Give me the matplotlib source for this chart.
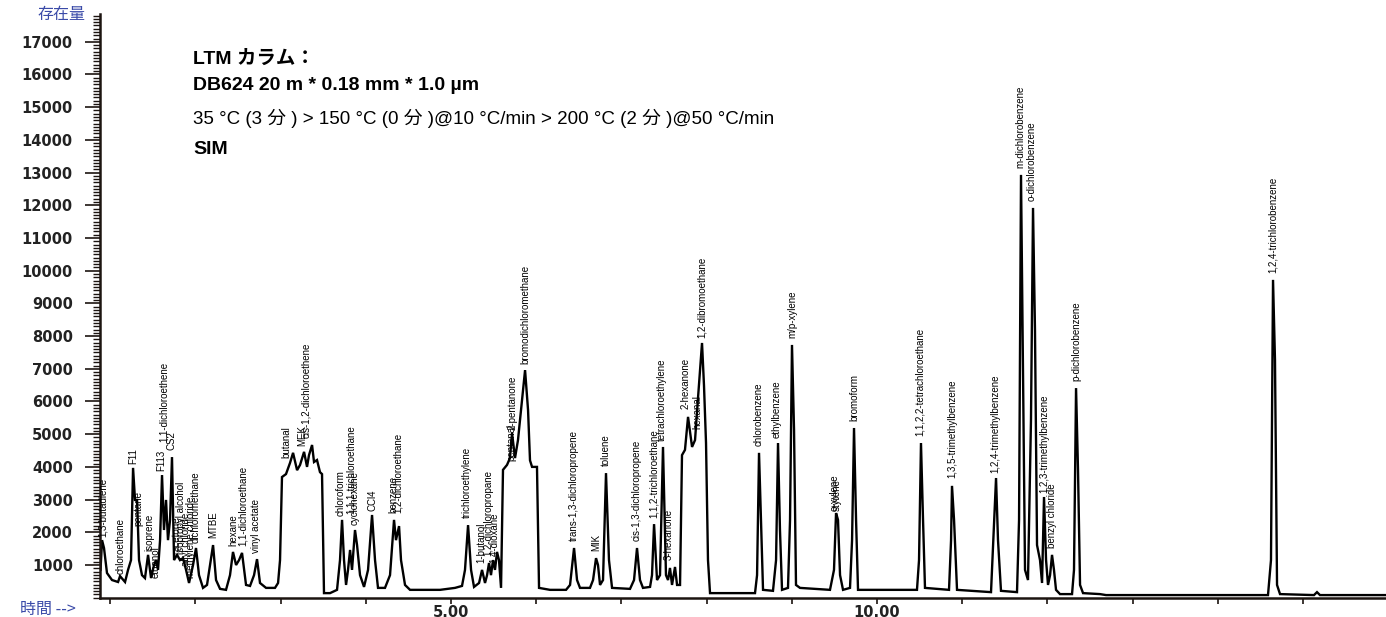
import matplotlib
matplotlib.use("Agg")
import matplotlib.pyplot as plt
from matplotlib.ticker import MultipleLocator, FixedLocator, FixedFormatter
from matplotlib import font_manager as fm

# ---------------- data ----------------
trace_time = [0.886, 0.904, 0.927, 0.962, 1.021, 1.092, 1.115, 1.174, 1.209, 1.244, 1.268, 1.291, 1.315, 1.338,
              1.373, 1.408, 1.444, 1.479, 1.514, 1.538, 1.561, 1.585, 1.608, 1.631, 1.655, 1.678, 1.702, 1.725,
              1.749, 1.784, 1.819, 1.854, 1.890, 1.925, 1.972, 2.007, 2.042, 2.089, 2.136, 2.171, 2.207, 2.242,
              2.289, 2.359, 2.406, 2.441, 2.477, 2.512, 2.547, 2.594, 2.641, 2.688, 2.723, 2.758, 2.829, 2.934,
              2.970, 2.993, 3.016, 3.063, 3.110, 3.146, 3.193, 3.228, 3.275, 3.310, 3.333, 3.369, 3.392, 3.427,
              3.462, 3.486, 3.509, 3.580, 3.662, 3.697, 3.721, 3.744, 3.768, 3.791, 3.815, 3.838, 3.873, 3.897,
              3.932, 3.979, 4.026, 4.073, 4.108, 4.143, 4.225, 4.284, 4.331, 4.354, 4.390, 4.413, 4.460, 4.519,
              4.871, 5.047, 5.129, 5.164, 5.200, 5.235, 5.270, 5.329, 5.364, 5.399, 5.423, 5.446, 5.469, 5.493,
              5.516, 5.540, 5.563, 5.587, 5.610, 5.657, 5.692, 5.716, 5.751, 5.786, 5.822, 5.869, 5.904, 5.927,
              5.951, 6.009, 6.033, 6.162, 6.350, 6.397, 6.444, 6.479, 6.514, 6.631, 6.667, 6.702, 6.725, 6.749,
              6.784, 6.819, 6.854, 6.890, 7.101, 7.148, 7.183, 7.218, 7.253, 7.336, 7.359, 7.383, 7.418, 7.453,
              7.488, 7.523, 7.547, 7.570, 7.594, 7.629, 7.653, 7.688, 7.711, 7.746, 7.782, 7.829, 7.864, 7.899,
              7.946, 7.969, 7.993, 8.016, 8.040, 8.568, 8.592, 8.615, 8.638, 8.662, 8.779, 8.815, 8.838, 8.861,
              8.885, 8.955, 8.979, 9.002, 9.026, 9.049, 9.096, 9.448, 9.495, 9.519, 9.542, 9.566, 9.601, 9.683,
              9.707, 9.730, 9.754, 9.777, 10.469, 10.493, 10.516, 10.540, 10.563, 10.845, 10.869, 10.880, 10.904,
              10.939, 11.338, 11.362, 11.397, 11.420, 11.455, 11.643, 11.667, 11.690, 11.714, 11.737, 11.772,
              11.807, 11.831, 11.854, 11.878, 11.913, 11.937, 11.960, 11.984, 12.007, 12.031, 12.054, 12.077,
              12.101, 12.148, 12.289, 12.312, 12.336, 12.359, 12.383, 12.418, 12.617, 12.688, 14.589, 14.624,
              14.648, 14.671, 14.695, 14.730, 15.129, 15.164, 15.199, 15.974]
trace_abund = [850, 1760, 1520, 755, 540, 480, 660, 480, 850, 1150, 3970, 2990, 2990, 1150,
               690, 600, 1310, 600, 1000, 1150, 850, 1760, 3750, 2070, 2990, 1760, 2380, 4300,
               1150, 1310, 1150, 1210, 850, 450, 1000, 1520, 690, 300, 390, 1000, 1610, 540,
               270, 240, 690, 1400, 1000, 1150, 1370, 390, 360, 690, 1180, 450, 300, 300,
               450, 1150, 3690, 3780, 4120, 4430, 3900, 4060, 4460, 4000, 4360, 4670, 4150, 4210,
               3840, 3780, 140, 140, 240, 1150, 2380, 1150, 390, 850, 1460, 850, 2070, 1610,
               690, 330, 850, 2530, 1150, 300, 300, 690, 2380, 1760, 2190, 1150, 390, 240,
               240, 300, 360, 850, 2220, 850, 330, 450, 850, 450, 690, 1060, 690, 1150,
               850, 1400, 1150, 300, 3910, 4060, 4270, 5040, 4270, 4820, 5740, 6960, 5740, 4200,
               4000, 4000, 300, 240, 240, 390, 1520, 540, 300, 300, 540, 1210, 1000, 390,
               540, 3810, 1150, 300, 270, 540, 1520, 540, 300, 330, 690, 2250, 540, 690,
               4610, 690, 540, 910, 390, 940, 390, 390, 4360, 4520, 5530, 4610, 4820, 6110,
               7790, 6500, 4730, 1150, 140, 140, 690, 4430, 2380, 240, 210, 1150, 4730, 2070,
               240, 300, 2380, 7730, 5130, 390, 300, 240, 850, 2590, 2380, 690, 240, 300,
               1760, 5190, 2380, 240, 240, 1150, 4730, 2380, 300, 240, 1760, 3420, 2380,
               240, 170, 1610, 3660, 1760, 210, 170, 2380, 12930, 6660, 850, 540,
               5430, 11920, 8190, 1610, 1150, 450, 3080, 1150, 390, 690, 1310, 850,
               240, 110, 110, 850, 6410, 3910, 390, 140, 110, 80, 80, 1150,
               9720, 7270, 390, 110, 80, 170, 80, 80]

peak_names = ["1,3-butadiene", "chloroethane", "F11", "pentane", "isoprene", "ethanol", "F113",
              "1,1-dichloroethene", "CS2", "acetone", "isopropyl alcohol", "allyl chloride",
              "methylene chloride", "dichloromethane", "MTBE", "hexane", "1,1-dichloroethane",
              "vinyl acetate", "butanal", "MEK", "cis-1,2-dichloroethene", "chloroform",
              "1,1,1-trichloroethane", "cyclohexane", "CCl4", "benzene", "1,2-dichloroethane",
              "trichloroethylene", "1-butanol", "1,2-dichloropropane", "1,4-dioxane", "pentanal",
              "2-pentanone", "bromodichloromethane", "trans-1,3-dichloropropene", "MIK", "toluene",
              "cis-1,3-dichloropropene", "1,1,2-trichloroethane", "tetrachloroethylene", "3-hexanone",
              "2-hexanone", "hexanal", "1,2-dibromoethane", "chlorobenzene", "ethylbenzene",
              "m/p-xylene", "o-xylene", "styrene", "bromoform", "1,1,2,2-tetrachloroethane",
              "1,3,5-trimethylbenzene", "1,2,4-trimethylbenzene", "m-dichlorobenzene",
              "o-dichlorobenzene", "1,2,3-trimethylbenzene", "benzyl chloride", "p-dichlorobenzene",
              "1,2,4-trichlorobenzene"]
peak_label_time = [0.915, 1.127, 1.268, 1.326, 1.456, 1.538, 1.596, 1.631, 1.725, 1.784, 1.831, 1.890,
                   1.948, 2.007, 2.207, 2.441, 2.559, 2.711, 3.063, 3.251, 3.298, 3.709, 3.826, 3.873,
                   4.073, 4.319, 4.378, 5.188, 5.352, 5.434, 5.505, 5.704, 5.728, 5.869, 6.444, 6.702,
                   6.819, 7.183, 7.383, 7.476, 7.559, 7.758, 7.887, 7.946, 8.615, 8.826, 9.002, 9.507,
                   9.531, 9.730, 10.505, 10.880, 11.385, 11.678, 11.819, 11.960, 12.054, 12.336, 14.648]
peak_label_abund = [1800, 660, 4030, 2130, 1370, 540, 3810, 4700, 4460, 1370, 1280, 910,
                    540, 1610, 1760, 1520, 1520, 1310, 4210, 4580, 4820, 2440, 2500, 2160,
                    2590, 2530, 2530, 2380, 1000, 1210, 1000, 4120, 5070, 7085, 1670, 1370,
                    3970, 1670, 2380, 4730, 1090, 5710, 5100, 7880, 4580, 4820, 7880, 2590,
                    2590, 5340, 4880, 3600, 3750, 13070, 12060, 3140, 1460, 6560, 9870]

y_major_step = 1000
y_minor_step = 100
x_tick_values = [1, 2, 3, 4, 5, 6, 7, 8, 9, 10, 11, 12, 13, 14, 15]
x_tick_labels = ["", "", "", "", "5.00", "", "", "", "", "10.00", "", "", "", "", ""]
y_label = "存在量"
x_label = "時間 -->"
info_lines = ["LTM カラム：", "DB624 20 m * 0.18 mm * 1.0 µm",
              "35 °C (3 分 ) > 150 °C (0 分 )@10 °C/min > 200 °C (2 分 )@50 °C/min", "SIM"]
info_bold = [True, True, False, True]

# ---------------- figure ----------------
W, H = 1386, 617
fig = plt.figure(figsize=(W / 100, H / 100), dpi=100)
ax = fig.add_axes([100 / W, (H - 597.7) / H, 1 - 100 / W, (597.7 - 14) / H])

ink = "#1c1410"
ax.plot(trace_time, trace_abund, color="black", lw=1.7, solid_joinstyle="miter")
ax.set_xlim(0.880, 15.974)
ax.set_ylim(0, 17850)

for s in ("top", "right"):
    ax.spines[s].set_visible(False)
for s in ("left", "bottom"):
    ax.spines[s].set_color(ink)
    ax.spines[s].set_linewidth(1.8)

num_font = dict(family="DejaVu Sans", weight="bold", size=10.5)
ax.yaxis.set_major_locator(MultipleLocator(y_major_step))
ax.yaxis.set_minor_locator(MultipleLocator(y_minor_step))
ax.set_yticks([v for v in range(1000, 17001, 1000)])
ax.tick_params(axis="y", which="major", length=10.5, width=1.2, color=ink, pad=9, labelcolor="#222222")
ax.tick_params(axis="y", which="minor", length=5, width=1.0, color=ink)
for lab in ax.get_yticklabels():
    lab.set_fontproperties(fm.FontProperties(**num_font))

ax.xaxis.set_major_locator(FixedLocator(x_tick_values))
ax.xaxis.set_major_formatter(FixedFormatter(x_tick_labels))
ax.tick_params(axis="x", which="major", length=4.5, width=1.2, color=ink, pad=0.5, labelcolor="#222222")
for lab in ax.get_xticklabels():
    lab.set_fontproperties(fm.FontProperties(**num_font))

lab_family = ["Liberation Sans", "DejaVu Sans"]
for name, t, v in zip(peak_names, peak_label_time, peak_label_abund):
    ax.text(t, v + 60, name, rotation=90, ha="center", va="bottom", fontsize=7,
            family=lab_family, color="black", clip_on=False)

blue = "#3a4aa8"
cjk = ["Noto Sans CJK JP", "DejaVu Sans"]
fig.text(85 / W, 1 - 15 / H, y_label, ha="right", va="center", fontsize=11.5, color=blue, family=cjk)
fig.text(20 / W, 1 - 609 / H, x_label, ha="left", va="center", fontsize=11.5, color=blue, family=cjk)

info_family = ["Liberation Sans", "Noto Sans CJK JP", "DejaVu Sans"]
info_size = [14, 14, 13.5, 14]
baselines = [64, 90, 124, 154]
for line, b, bold, sz in zip(info_lines, baselines, info_bold, info_size):
    fig.text(193 / W, 1 - b / H, line, ha="left", va="baseline", fontsize=sz,
             weight="bold" if bold else "normal", family=info_family, color="black")

fig.savefig("out.png", dpi=100)
